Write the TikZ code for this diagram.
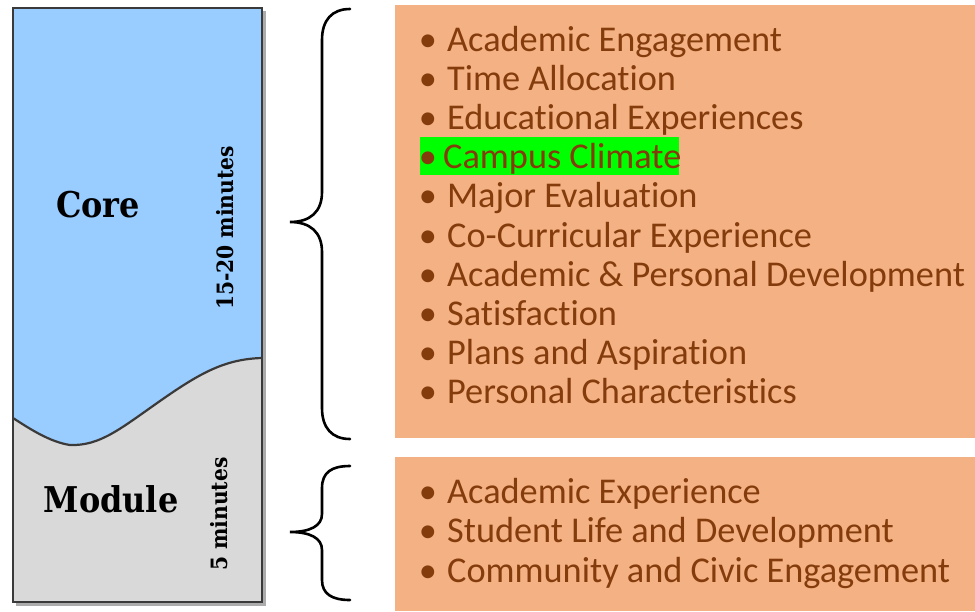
\documentclass[tikz,border=0pt]{standalone}
\usepackage{fontspec}
\setmainfont{Carlito}[Ligatures={NoCommon}]
\newfontfamily\slabfont{DejaVu Serif Condensed}
\definecolor{boxorange}{HTML}{F4B183}
\definecolor{itemtext}{HTML}{843C0C}
\definecolor{coreblue}{HTML}{99CCFF}
\definecolor{modgray}{HTML}{D9D9D9}
\definecolor{edgegray}{HTML}{3A3A3A}
\definecolor{hl}{HTML}{00FF00}
\tikzset{
  panel/.style={fill=boxorange, draw=none},
  itemstyle/.style={anchor=base west, inner sep=0pt, text=itemtext, font=\fontsize{36.3}{37}\selectfont},
  bulletstyle/.style={anchor=base, inner sep=0pt, text=itemtext, font=\fontsize{36.3}{37}\selectfont},
  bigword/.style={inner sep=0pt, font=\slabfont\bfseries\fontsize{35.5}{36}\selectfont},
  sideword/.style={inner sep=0pt, rotate=90, font=\slabfont\bfseries\fontsize{22.5}{23}\selectfont},
  bracestyle/.style={draw=black, line width=2.6pt, line cap=round},
  edgeline/.style={draw=edgegray, line width=1.6pt}
}
\begin{document}
\begin{tikzpicture}[x=1pt,y=-1pt]
\useasboundingbox (0,0) rectangle (975,611);
% left column
\fill[gray!65] (16,11) rectangle (266,606);
\fill[modgray] (13,8) rectangle (262,602);
\fill[coreblue] (13,8) -- (262,8) -- (262,357)
  .. controls (225,358) and (200,372) .. (160,400)
  .. controls (120,428) and (100,445) .. (70,444)
  .. controls (50,441) and (30,428) .. (13,417) -- cycle;
\draw[edgeline, line width=2.2pt] (262,358)
  .. controls (225,359) and (200,373) .. (160,401)
  .. controls (120,429) and (100,446) .. (70,445)
  .. controls (50,442) and (30,429) .. (13,418);
\draw[edgeline] (13,8) rectangle (262,602);
\node[bigword] (core) at (98,205) {Core};
\node[bigword] (module) at (111,499) {Module};
\node[sideword] (t1520) at (225,228) {15-20 minutes};
\node[sideword] (t5) at (219,514) {5 minutes};
% braces
\draw[bracestyle] (350,9) .. controls (332,9) and (322,20) .. (322,40) -- (322,192)
  .. controls (322,212) and (310,222) .. (290,222)
  .. controls (310,222) and (322,232) .. (322,252) -- (322,408)
  .. controls (322,428) and (332,439) .. (350,439);
\draw[bracestyle] (350,466) .. controls (332,466) and (322,472) .. (322,488) -- (322,514)
  .. controls (322,526) and (310,532) .. (290,532)
  .. controls (310,532) and (322,538) .. (322,550) -- (322,580)
  .. controls (322,594) and (332,600) .. (350,600);
% panels
\fill[panel] (395,5) rectangle (975,438);
\fill[panel] (395,457) rectangle (975,611);
\fill[hl] (420,137) rectangle (679,175);
% top items
\foreach \n/\t [count=\i from 0] in {a/Academic Engagement, b/Time Allocation, c/Educational Experiences, d/, e/Major Evaluation, f/Co-Curricular Experience, g/Academic \& Personal Development, h/Satisfaction, i/Plans and Aspiration, j/Personal Characteristics}{
  \pgfmathsetmacro{\yy}{51+39.2*\i}
  \node[bulletstyle] (b\n) at (428,\yy) {•};
  \node[itemstyle] (i\n) at (447,\yy) {\t};
}
\node[itemstyle] (id2) at (443,168.6) {Campus Climate};
% bottom items
\node[bulletstyle] (bk) at (428,503) {•};
\node[itemstyle] (ik) at (447,503) {Academic Experience};
\node[bulletstyle] (bl) at (428,542.5) {•};
\node[itemstyle] (il) at (447,542.5) {Student Life and Development};
\node[bulletstyle] (bm) at (428,582) {•};
\node[itemstyle] (im) at (447,582) {Community and Civic Engagement};
\end{tikzpicture}
\end{document}
